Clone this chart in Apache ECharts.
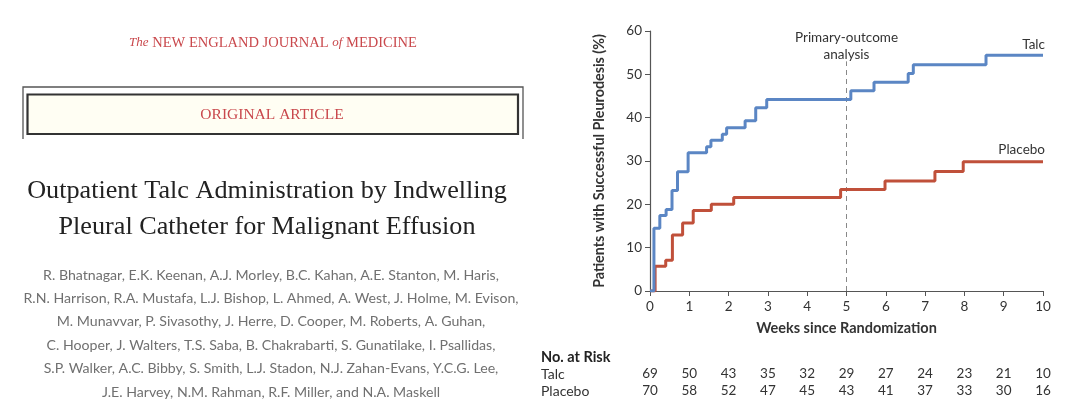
<!DOCTYPE html>
<html>
<head>
<meta charset="utf-8">
<script src="https://cdn.jsdelivr.net/npm/echarts@6/dist/echarts.min.js"></script>
<style>
html,body{margin:0;padding:0;background:#fff;}
#c{width:1080px;height:418px;}
</style>
</head>
<body>
<div id="c"></div>
<script>
// ---- data ----
const weeks = [0, 1, 2, 3, 4, 5, 6, 7, 8, 9, 10];
const yTicks = [0, 10, 20, 30, 40, 50, 60];
const talcTimes = [0, 0.1, 0.25, 0.41, 0.56, 0.7, 0.97, 1.44, 1.55, 1.84, 1.95, 2.42, 2.69, 2.97, 5.11, 5.7, 6.57, 6.7, 8.55, 10];
const talcValues = [0, 14.5, 17.4, 18.8, 23.2, 27.5, 31.9, 33.3, 34.8, 36.2, 37.7, 39.3, 42.3, 44.2, 46.2, 48.2, 50.2, 52.2, 54.4, 54.4];
const placeboTimes = [0, 0.13, 0.4, 0.57, 0.83, 1.1, 1.56, 2.13, 4.85, 5.98, 7.25, 7.97, 10];
const placeboValues = [0, 5.7, 7.1, 12.9, 15.7, 18.6, 20.0, 21.6, 23.4, 25.4, 27.6, 29.8, 29.8];
const talcAtRisk = [69, 50, 43, 35, 32, 29, 27, 24, 23, 21, 10];
const placeboAtRisk = [70, 58, 52, 47, 45, 43, 41, 37, 33, 30, 16];
const primaryOutcomeWeek = 5;
const primaryLineTop = 53;
const authors = [
  "R. Bhatnagar, E.K. Keenan, A.J. Morley, B.C. Kahan, A.E. Stanton, M. Haris,",
  "R.N. Harrison, R.A. Mustafa, L.J. Bishop, L. Ahmed, A. West, J. Holme, M. Evison,",
  "M. Munavvar, P. Sivasothy, J. Herre, D. Cooper, M. Roberts, A. Guhan,",
  "C. Hooper, J. Walters, T.S. Saba, B. Chakrabarti, S. Gunatilake, I. Psallidas,",
  "S.P. Walker, A.C. Bibby, S. Smith, L.J. Stadon, N.J. Zahan-Evans, Y.C.G. Lee,",
  "J.E. Harvey, N.M. Rahman, R.F. Miller, and N.A. Maskell"
];
const titleLines = ["Outpatient Talc Administration by Indwelling", "Pleural Catheter for Malignant Effusion"];

const BLUE = '#5b86c4', RED = '#c0503a', AX = '#555', TXT = '#333';
const SANS = 'Lato, "Open Sans", sans-serif';
const SERIF = '"Liberation Serif", "DejaVu Serif", serif';

const chart = echarts.init(document.getElementById('c'));

const option = {
  backgroundColor: '#fff',
  animation: false,
  grid: { left: 650, right: 37, top: 31, bottom: 127 },
  xAxis: {
    type: 'value', min: 0, max: 10, interval: 1,
    name: 'Weeks since Randomization', nameLocation: 'middle', nameGap: 30,
    nameTextStyle: { fontFamily: SANS, fontSize: 14.5, fontWeight: 'bold', color: TXT },
    axisLine: { lineStyle: { color: AX, width: 1.2 } },
    axisTick: { show: true, length: 5, lineStyle: { color: AX } },
    axisLabel: { fontFamily: SANS, fontSize: 13.5, color: TXT, margin: 9 },
    splitLine: { show: false }
  },
  yAxis: {
    type: 'value', min: 0, max: 60, interval: 10,
    name: 'Patients with Successful Pleurodesis (%)', nameLocation: 'middle', nameGap: 44, nameRotate: 90,
    nameTextStyle: { fontFamily: SANS, fontSize: 14.3, fontWeight: 'bold', color: TXT },
    axisLine: { show: true, lineStyle: { color: AX, width: 1.2 } },
    axisTick: { show: true, length: 5, lineStyle: { color: AX } },
    axisLabel: { fontFamily: SANS, fontSize: 13.5, color: TXT, margin: 8 },
    splitLine: { show: false }
  },
  series: [
    {
      name: 'Primary-outcome analysis', type: 'line', silent: true, symbol: 'none',
      data: [[primaryOutcomeWeek, 0], [primaryOutcomeWeek, primaryLineTop]],
      lineStyle: { color: '#888', width: 1, type: [5, 4] }, z: 1
    },
    {
      name: 'Placebo', type: 'line', step: 'end', symbol: 'none',
      data: placeboTimes.map((t, i) => [t, placeboValues[i]]),
      lineStyle: { color: RED, width: 3 }, z: 2
    },
    {
      name: 'Talc', type: 'line', step: 'end', symbol: 'none',
      data: talcTimes.map((t, i) => [t, talcValues[i]]),
      lineStyle: { color: BLUE, width: 3 }, z: 3
    }
  ]
};
chart.setOption(option);

const g = [];
// Journal header
g.push({ type: 'text', x: 273, y: 43, style: {
  text: '{i|The} {c|NEW ENGLAND JOURNAL} {i|of} {c|MEDICINE}',
  align: 'center', verticalAlign: 'middle',
  rich: {
    i: { fontFamily: SERIF, fontStyle: 'italic', fontSize: 13, fill: '#c9484c' },
    c: { fontFamily: SERIF, fontSize: 14.5, fill: '#c9484c' }
  },
  fontFamily: SERIF, fontSize: 14.5, fill: '#c9484c'
}});
// Box outer lines
g.push({ type: 'polyline', shape: { points: [[23, 139], [23, 87], [523, 87], [523, 139]] },
  style: { stroke: '#555', lineWidth: 1.3, fill: null } });
g.push({ type: 'rect', shape: { x: 27.5, y: 94.5, width: 490.5, height: 39.5 },
  style: { stroke: '#333', lineWidth: 2.2, fill: '#fffef3' } });
g.push({ type: 'text', x: 272, y: 114.5, style: {
  text: 'ORIGINAL ARTICLE', align: 'center', verticalAlign: 'middle',
  fontFamily: SERIF, fontSize: 15.5, fill: '#c9484c' } });
// Title
titleLines.forEach((t, i) => g.push({ type: 'text', x: 267, y: 191 + i * 36, style: {
  text: t, align: 'center', verticalAlign: 'middle',
  fontFamily: SERIF, fontSize: 26.2, fill: '#222' } }));
// Authors
authors.forEach((t, i) => g.push({ type: 'text', x: 271, y: 275 + i * 23.4, style: {
  text: t, align: 'center', verticalAlign: 'middle',
  fontFamily: SANS, fontSize: 14.15, fill: '#707070' } }));

// Chart annotations
const px = (x, y) => chart.convertToPixel({ xAxisIndex: 0, yAxisIndex: 0 }, [x, y]);
const pTop = px(primaryOutcomeWeek, 60);
g.push({ type: 'text', x: pTop[0], y: 38, style: { text: 'Primary-outcome', align: 'center', verticalAlign: 'middle', fontFamily: SANS, fontSize: 13.5, fill: TXT } });
g.push({ type: 'text', x: pTop[0], y: 55, style: { text: 'analysis', align: 'center', verticalAlign: 'middle', fontFamily: SANS, fontSize: 13.5, fill: TXT } });
const tEnd = px(10, talcValues[talcValues.length - 1]);
g.push({ type: 'text', x: tEnd[0] + 2, y: tEnd[1] - 11, style: { text: 'Talc', align: 'right', verticalAlign: 'middle', fontFamily: SANS, fontSize: 13.5, fill: TXT } });
const pEnd = px(10, placeboValues[placeboValues.length - 1]);
g.push({ type: 'text', x: pEnd[0] + 2, y: pEnd[1] - 12, style: { text: 'Placebo', align: 'right', verticalAlign: 'middle', fontFamily: SANS, fontSize: 13.5, fill: TXT } });

// Number at risk
g.push({ type: 'text', x: 541, y: 357, style: { text: 'No. at Risk', align: 'left', verticalAlign: 'middle', fontFamily: SANS, fontSize: 14.5, fontWeight: 'bold', fill: '#222' } });
g.push({ type: 'text', x: 541, y: 374, style: { text: 'Talc', align: 'left', verticalAlign: 'middle', fontFamily: SANS, fontSize: 14, fill: TXT } });
g.push({ type: 'text', x: 541, y: 391, style: { text: 'Placebo', align: 'left', verticalAlign: 'middle', fontFamily: SANS, fontSize: 14, fill: TXT } });
weeks.forEach((w, i) => {
  const p = px(w, 0);
  g.push({ type: 'text', x: p[0], y: 374, style: { text: String(talcAtRisk[i]), align: 'center', verticalAlign: 'middle', fontFamily: SANS, fontSize: 13.5, fill: TXT } });
  g.push({ type: 'text', x: p[0], y: 391, style: { text: String(placeboAtRisk[i]), align: 'center', verticalAlign: 'middle', fontFamily: SANS, fontSize: 13.5, fill: TXT } });
});

chart.setOption({ graphic: g });
</script>
</body>
</html>
